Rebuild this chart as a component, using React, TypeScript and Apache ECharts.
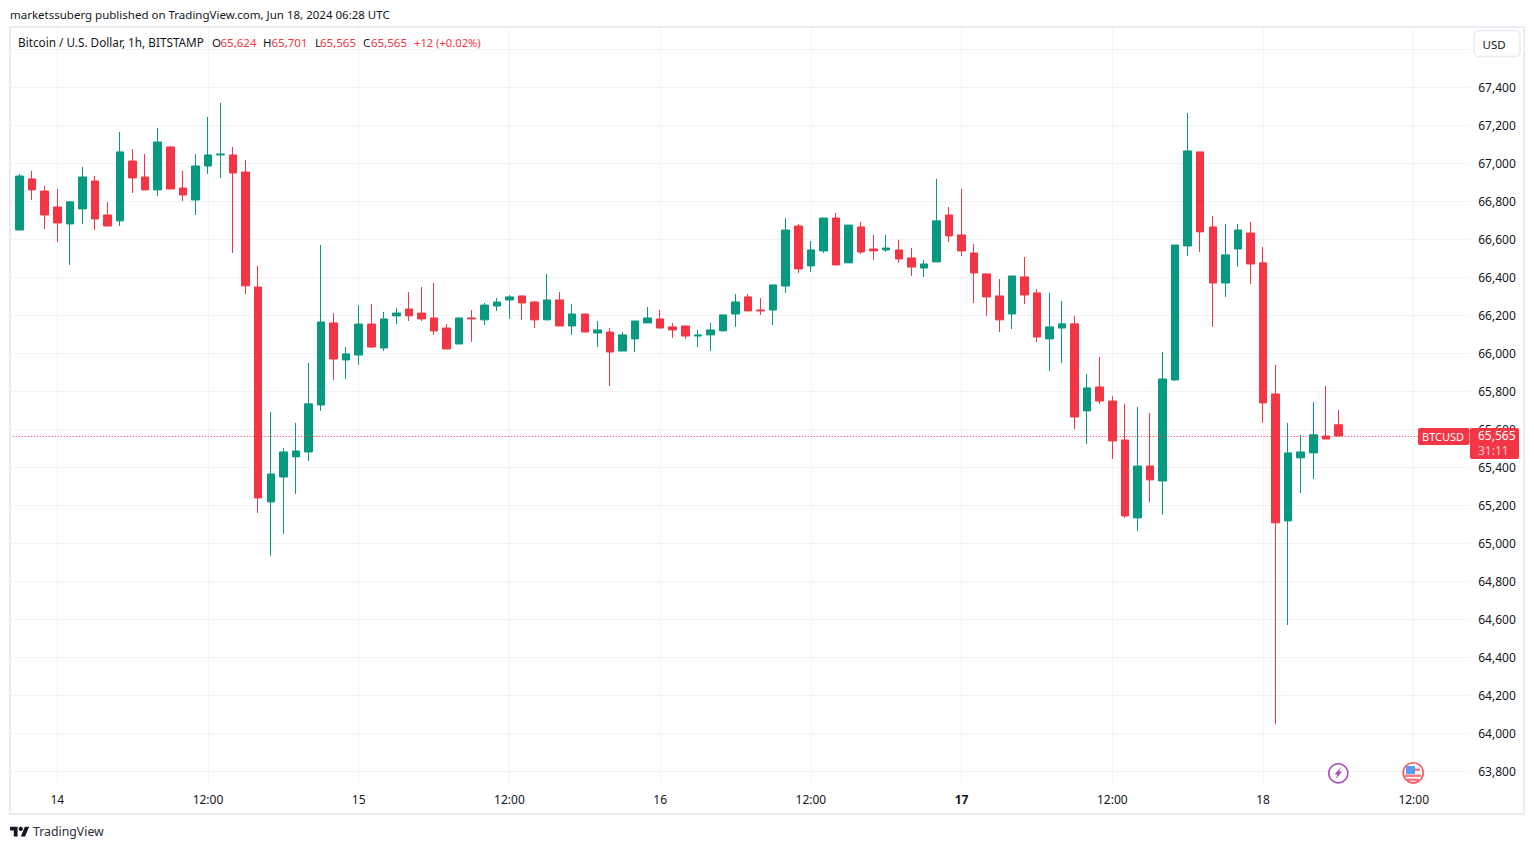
import React, { useEffect, useRef } from "react";
import * as echarts from "echarts";

const candles: number[][] = [
  [66576,66676,66576,66676],[66649,66933,66649,66944],[66918,66860,66807,66960],[66854,66728,66654,66881],
  [66770,66686,66586,66865],[66681,66797,66465,66797],[66760,66928,66681,66981],[66907,66707,66649,66933],
  [66728,66670,66670,66797],[66697,67060,66670,67165],[67012,66923,66844,67075],[66928,66860,66860,67049],
  [66860,67112,66828,67186],[67086,66865,66865,67091],[66870,66833,66802,66960],[66807,66986,66728,67049],
  [66986,67044,66944,67244],[67044,67049,66923,67318],[67044,66949,66528,67086],[66954,66355,66312,67018],
  [66349,65239,65160,66460],[65218,65365,64934,65691],[65349,65481,65049,65502],[65455,65486,65260,65634],
  [65481,65734,65434,65949],[65728,66165,65697,66570],[66160,65970,65860,66212],[65965,65997,65865,66033],
  [65991,66154,65939,66254],[66154,66033,66028,66260],[66028,66181,66012,66218],[66197,66212,66154,66239],
  [66233,66197,66170,66323],[66212,66181,66170,66349],[66186,66118,66097,66370],[66133,66023,66023,66154],
  [66049,66186,66049,66186],[66186,66181,66060,66228],[66176,66254,66149,66265],[66249,66270,66223,66291],
  [66281,66297,66181,66307],[66302,66265,66176,66302],[66270,66176,66133,66276],[66176,66281,66176,66418],
  [66281,66144,66144,66323],[66144,66207,66097,66260],[66207,66112,66112,66207],[66107,66123,66033,66170],
  [66112,66007,65828,66133],[66012,66097,66012,66112],[66076,66170,66007,66170],[66160,66186,66160,66244],
  [66181,66133,66133,66228],[66139,66123,66081,66160],[66144,66091,66076,66144],[66091,66097,66033,66123],
  [66097,66123,66012,66160],[66118,66202,66118,66202],[66207,66270,66139,66312],[66297,66223,66223,66312],
  [66228,66223,66202,66291],[66228,66360,66149,66360],[66354,66649,66318,66712],[66670,66444,66423,66681],
  [66460,66544,66428,66591],[66539,66712,66528,66712],[66712,66465,66465,66739],[66476,66675,66476,66675],
  [66665,66533,66523,66691],[66549,66539,66491,66623],[66544,66554,66533,66623],[66544,66497,66476,66597],
  [66502,66454,66407,66554],[66449,66470,66402,66491],[66481,66697,66481,66918],[66728,66618,66586,66770],
  [66623,66539,66512,66865],[66528,66423,66265,66575],[66418,66297,66197,66418],[66302,66176,66112,66391],
  [66207,66407,66128,66407],[66402,66307,66260,66507],[66318,66086,66060,66339],[66076,66139,65907,66318],
  [66133,66155,65949,66276],[66155,65665,65602,66197],[65697,65818,65523,65891],[65823,65749,65734,65981],
  [65749,65539,65444,65776],[65544,65144,65134,65734],[65134,65407,65065,65718],[65407,65334,65218,65686],
  [65328,65865,65150,66007],[65860,66570,65855,66570],[66565,67065,66512,67265],[67060,66639,66533,67060],
  [66665,66370,66139,66723],[66370,66518,66297,66681],[66549,66649,66455,66681],[66633,66470,66365,66691],
  [66476,65739,65634,66560],[65786,65108,64049,65939],[65118,65476,64570,65634],[65450,65481,65265,65571],
  [65476,65571,65339,65744],[65565,65549,65549,65828],[65624,65565,65565,65701],
];

const tickIndexes = [4, 16, 28, 40, 52, 64, 76, 88, 100, 112];
const tickLabels = ["14", "12:00", "15", "12:00", "16", "12:00", "17", "12:00", "18", "12:00"];
const categories = Array.from({ length: 117 }, (_, i) => {
  const t = tickIndexes.indexOf(i);
  return t >= 0 ? `${tickLabels[t]}#${i}` : `h${i}`;
});

const lastPrice = 65565;
const UP = "#089981";
const DOWN = "#F23645";
const TEXT = "#131722";
const GRID = "#f2f3f5";
const FRAME = "#e9ecf2";
const FONT = '"Noto Sans", sans-serif';

const label = (text: string, x: number, y: number, fill = TEXT, size = 11.5) => ({
  type: "text", x, y, z: 101, silent: true,
  style: { text, fill, font: `${size}px ${FONT}`, textVerticalAlign: "middle" },
});

export default function App() {
  const ref = useRef<HTMLDivElement>(null);
  useEffect(() => {
    if (!ref.current) return;
    echarts.graphic.registerShape(
      "tvlogo",
      echarts.graphic.extendPath("M14 22H7V11H0V4h14v18zM28 22h-8l7.5-18h8L28 22z", {})
    );
    const chart = echarts.init(ref.current, undefined, { renderer: "svg" });
    chart.setOption({
      animation: false,
      backgroundColor: "#ffffff",
      textStyle: { fontFamily: FONT },
      grid: { left: 0.75, right: 63.75, top: 28, bottom: 63, containLabel: false },
      xAxis: {
        type: "category",
        data: categories,
        boundaryGap: true,
        axisLine: { show: false },
        axisTick: { show: false },
        splitLine: {
          show: true,
          alignWithLabel: true,
          interval: (i: number) => tickIndexes.includes(i),
          lineStyle: { color: GRID, width: 1 },
        },
        axisLabel: {
          interval: (i: number) => tickIndexes.includes(i),
          margin: 7,
          color: TEXT,
          fontSize: 12,
          fontFamily: FONT,
          formatter: (v: string) => {
            const s = v.split("#")[0];
            return s === "17" ? `{b|${s}}` : s;
          },
          rich: { b: { fontWeight: "bold", fontSize: 12, color: TEXT, fontFamily: FONT } },
        },
      },
      yAxis: {
        type: "value",
        position: "right",
        min: 63723,
        max: 67712,
        splitNumber: 20,
        minInterval: 200,
        maxInterval: 200,
        axisLine: { show: false },
        axisTick: { show: false },
        splitLine: { show: true, showMinLine: false, showMaxLine: false, lineStyle: { color: GRID, width: 1 } },
        axisLabel: {
          margin: 8,
          padding: [0, 0, 3, 0],
          color: TEXT,
          fontSize: 12,
          fontFamily: FONT,
          showMinLabel: false,
          showMaxLabel: false,
          formatter: (v: number) => (v % 200 === 0 && v !== 67600 ? v.toLocaleString("en-US") : ""),
        },
      },
      series: [
        {
          type: "candlestick",
          data: candles,
          barWidth: 8,
          silent: true,
          clip: true,
          itemStyle: { color: UP, color0: DOWN, borderColor: UP, borderColor0: DOWN, borderWidth: 1 },
          markLine: {
            silent: true,
            symbol: ["none", "none"],
            label: { show: false },
            lineStyle: { type: [1, 2], color: DOWN, width: 1 },
            data: [{ yAxis: lastPrice }],
          },
        },
      ],
      graphic: {
        elements: [
          { type: "rect", z: 100, silent: true, shape: { x: 0, y: 20, width: 10, height: 780 }, style: { fill: "#fff" } },
          { type: "rect", z: 100, silent: true, shape: { x: 10, y: 27, width: 1514, height: 787 }, style: { fill: "none", stroke: FRAME, lineWidth: 2 } },
          label("marketssuberg published on TradingView.com, Jun 18, 2024 06:28 UTC", 10, 14),
          label("Bitcoin / U.S. Dollar, 1h, BITSTAMP", 18, 42, TEXT, 11.75),
          label("O", 212, 42),
          label("65,624", 220.5, 42, DOWN),
          label("H", 263, 42),
          label("65,701", 271.5, 42, DOWN),
          label("L", 315, 42),
          label("65,565", 320, 42, DOWN),
          label("C", 363, 42),
          label("65,565", 371, 42, DOWN),
          label("+12 (+0.02%)", 414, 42, DOWN, 11.2),
          { type: "rect", z: 100, silent: true, shape: { x: 1474, y: 30.5, width: 46, height: 26, r: 5 }, style: { fill: "#fff", stroke: FRAME, lineWidth: 1.5 } },
          label("USD", 1482.5, 44),
          { type: "rect", z: 100, silent: true, shape: { x: 1418, y: 428, width: 51.5, height: 17, r: 2 }, style: { fill: DOWN } },
          label("BTCUSD", 1422, 436.5, "#ffffff", 11),
          { type: "rect", z: 100, silent: true, shape: { x: 1470, y: 428, width: 49, height: 31, r: 2 }, style: { fill: DOWN } },
          label("65,565", 1478, 435.5, "#ffffff", 12),
          label("31:11", 1478, 450, "#fbc4c9", 12),
          { type: "tvlogo", x: 10, y: 824.5, scaleX: 0.54, scaleY: 0.54, z: 101, silent: true, style: { fill: TEXT } },
          { type: "circle", z: 101, silent: true, shape: { cx: 20.8, cy: 828.8, r: 2.16 }, style: { fill: TEXT } },
          label("TradingView", 33, 831, "#2a2e39", 12.3),
          { type: "circle", z: 101, silent: true, shape: { cx: 1338.3, cy: 773.3, r: 9.5 }, style: { fill: "#fff", stroke: "#ab47bc", lineWidth: 1.6 } },
          { type: "polygon", z: 102, silent: true, shape: { points: [[1341, 767], [1334.5, 774.5], [1337.5, 774.5], [1335.5, 779.5], [1342, 771.5], [1339, 771.5]] }, style: { fill: "#ab47bc" } },
          { type: "circle", z: 101, silent: true, shape: { cx: 1413.2, cy: 772.8, r: 10 }, style: { fill: "#fff" } },
          { type: "rect", z: 102, silent: true, shape: { x: 1406, y: 766, width: 9, height: 8 }, style: { fill: "#5b9cf6" } },
          { type: "rect", z: 102, silent: true, shape: { x: 1415, y: 768.5, width: 5, height: 2.5 }, style: { fill: "#f77c80" } },
          { type: "rect", z: 102, silent: true, shape: { x: 1405, y: 774.5, width: 16, height: 2.5 }, style: { fill: "#f77c80" } },
          { type: "rect", z: 102, silent: true, shape: { x: 1407, y: 778.5, width: 12, height: 2.5 }, style: { fill: "#f77c80" } },
          { type: "circle", z: 103, silent: true, shape: { cx: 1413.2, cy: 772.8, r: 10 }, style: { fill: "none", stroke: "#f7525f", lineWidth: 1.6 } },
        ],
      },
    });
    return () => chart.dispose();
  }, []);
  return <div ref={ref} style={{ position: "fixed", left: 0, top: 0, width: 1534, height: 849 }} />;
}
